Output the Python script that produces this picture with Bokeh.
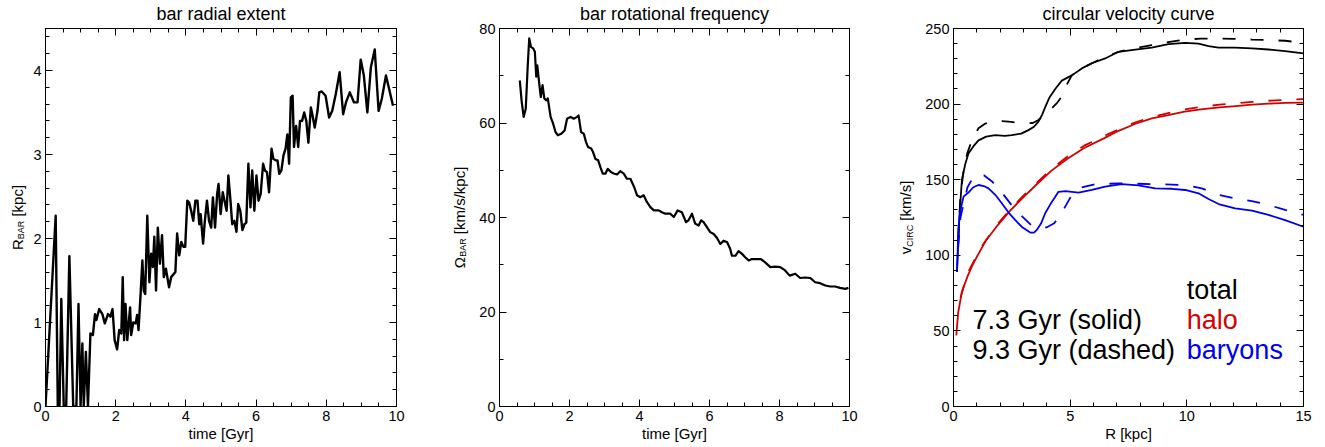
import math
from bokeh.plotting import figure
from bokeh.layouts import row
from bokeh.models import (Range1d, LinearAxis, SingleIntervalTicker, Label, Title,
                          CustomLabelingPolicy)
from bokeh.embed import file_html
from bokeh.resources import INLINE

FONT = "Liberation Sans"

# ---------------- data ----------------
# panel 1: bar radial extent
t_bar = [0.0, 0.29, 0.35, 0.40, 0.45, 0.52, 0.59, 0.68, 0.79, 0.88, 0.94, 1.0, 1.05, 1.09, 1.15, 1.21,
         1.28, 1.35, 1.41, 1.45, 1.53, 1.62, 1.69, 1.78, 1.85, 1.91, 1.97, 2.04, 2.1, 2.16, 2.2, 2.24,
         2.28, 2.33, 2.41, 2.44, 2.5, 2.57, 2.61, 2.65, 2.71, 2.76, 2.8, 2.84, 2.9, 2.96, 3.01, 3.06,
         3.1, 3.15, 3.2, 3.26, 3.32, 3.37, 3.43, 3.52, 3.58, 3.7, 3.75, 3.81, 3.87, 3.93, 3.98, 4.04,
         4.09, 4.15, 4.21, 4.27, 4.33, 4.38, 4.42, 4.49, 4.54, 4.6, 4.66, 4.72, 4.77, 4.83, 4.89, 4.93,
         4.99, 5.05, 5.1, 5.16, 5.21, 5.27, 5.32, 5.38, 5.44, 5.49, 5.55, 5.61, 5.67, 5.72, 5.78, 5.84,
         5.89, 5.95, 6.01, 6.07, 6.13, 6.2, 6.25, 6.31, 6.37, 6.44, 6.49, 6.56, 6.61, 6.66, 6.72, 6.78,
         6.84, 6.89, 6.94, 6.99, 7.04, 7.08, 7.14, 7.2, 7.25, 7.31, 7.37, 7.43, 7.49, 7.56, 7.61, 7.67,
         7.75, 7.8, 7.87, 7.98, 8.08, 8.17, 8.27, 8.38, 8.48, 8.56, 8.67, 8.79, 8.89, 8.98, 9.07, 9.17,
         9.27, 9.38, 9.49, 9.58, 9.7, 9.79, 9.9]
r_bar = [0.0, 2.27, 0.0, 0.0, 1.28, 0.0, 0.0, 1.79, 0.0, 0.0, 1.22, 0.0, 0.75, 0.0, 0.65, 0.0,
         0.87, 0.85, 1.1, 1.03, 1.16, 1.1, 0.99, 1.1, 1.07, 1.16, 0.79, 0.68, 0.91, 0.87, 1.54, 0.79,
         1.22, 0.79, 1.18, 0.85, 1.0, 0.99, 1.09, 0.91, 1.34, 1.74, 1.38, 1.34, 2.27, 1.48, 1.82, 1.66,
         2.02, 1.38, 2.13, 1.7, 2.04, 1.54, 1.64, 1.42, 1.54, 1.6, 2.06, 1.8, 1.96, 1.9, 1.9, 2.45,
         2.43, 2.33, 2.21, 2.45, 2.45, 2.17, 2.29, 1.94, 2.21, 2.45, 2.21, 2.13, 2.49, 2.13, 2.53, 2.65,
         2.29, 2.55, 2.45, 2.33, 2.75, 2.45, 2.17, 2.21, 2.08, 2.41, 2.33, 2.1, 2.17, 2.19, 2.89, 2.37,
         2.81, 2.33, 2.75, 2.45, 2.53, 2.89, 2.81, 2.79, 2.55, 3.07, 2.95, 2.93, 2.93, 2.77, 2.81, 2.99,
         3.07, 3.24, 2.89, 3.68, 3.7, 3.09, 3.34, 3.09, 3.4, 3.4, 3.5, 3.4, 3.14, 3.56, 3.46, 3.32,
         3.52, 3.74, 3.75, 3.7, 3.44, 3.52, 3.72, 3.98, 3.48, 3.62, 3.74, 3.62, 3.62, 4.13, 3.94, 3.5,
         4.04, 4.25, 3.52, 3.66, 3.94, 3.78, 3.58]

# panel 2: bar rotational frequency
t_omega = [0.58, 0.63, 0.69, 0.75, 0.81, 0.85, 0.9, 0.96, 1.01, 1.05, 1.08, 1.13, 1.18, 1.23, 1.28,
           1.34, 1.38, 1.46, 1.53, 1.6, 1.67, 1.76, 1.86, 1.93, 2.03, 2.12, 2.22, 2.26, 2.33, 2.41,
           2.47, 2.53, 2.62, 2.67, 2.74, 2.82, 2.88, 2.95, 3.03, 3.09, 3.19, 3.26, 3.36, 3.45, 3.55,
           3.64, 3.74, 3.85, 3.93, 4.02, 4.12, 4.21, 4.31, 4.41, 4.55, 4.64, 4.74, 4.88, 4.98, 5.09,
           5.21, 5.33, 5.4, 5.5, 5.59, 5.69, 5.76, 5.83, 5.93, 6.02, 6.12, 6.21, 6.31, 6.4, 6.5,
           6.59, 6.64, 6.74, 6.83, 6.93, 7.02, 7.12, 7.21, 7.35, 7.47, 7.59, 7.74, 7.88, 8.02, 8.16,
           8.29, 8.45, 8.59, 8.73, 8.88, 9.02, 9.16, 9.31, 9.45, 9.59, 9.73, 9.88, 9.97]
omega_bar = [69.0, 64.8, 61.3, 63.0, 72.6, 77.9, 76.1, 75.8, 75.1, 69.8, 72.2, 68.7, 65.5, 68.0, 65.2,
             64.8, 65.2, 61.3, 59.9, 58.1, 57.4, 57.7, 58.4, 60.9, 61.3, 60.9, 61.3, 61.6, 58.1, 57.7,
             56.0, 54.9, 54.6, 53.9, 52.4, 52.1, 50.7, 49.3, 49.3, 50.3, 49.6, 49.3, 49.1, 49.8, 49.3,
             48.2, 48.2, 46.4, 44.7, 44.3, 44.7, 43.3, 42.2, 41.5, 41.5, 41.1, 40.8, 40.8, 40.1, 41.5,
             41.1, 39.0, 39.4, 40.8, 38.7, 38.3, 39.4, 39.0, 37.9, 36.9, 36.5, 35.7, 34.4, 35.1, 34.8,
             33.4, 31.9, 31.9, 32.9, 32.3, 31.6, 30.9, 31.2, 31.2, 31.2, 30.5, 29.5, 29.6, 29.5, 28.8,
             27.7, 28.1, 27.2, 27.3, 27.2, 26.3, 26.1, 25.6, 25.4, 25.4, 25.1, 24.9, 25.1]

# panel 3: circular velocity curves
r_total_73 = [0.15, 0.25, 0.36, 0.5, 0.64, 0.85, 1.07, 1.4, 1.79, 2.2, 2.5, 2.9, 3.21, 3.45, 3.64,
              3.8, 3.93, 4.1, 4.36, 4.64, 5.07, 5.5, 5.93, 6.5, 7.07, 7.79, 8.5, 9.21, 9.93, 10.5,
              10.93, 11.36, 12.07, 12.79, 13.5, 14.21, 15.0]
v_total_73 = [89, 125, 150, 160, 167.4, 172, 176, 178.5, 179.5, 179, 179.5, 180.5, 182.8, 185, 188.4,
              193, 198, 204, 210, 215.5, 219, 223.6, 227, 230.2, 234.6, 236, 237.4, 239.6, 240.5, 240,
              238.3, 237.4, 237.4, 236.8, 236.1, 235, 233.5]
r_total_93 = [0.2, 0.3, 0.45, 0.6, 0.79, 1.07, 1.35, 1.64, 2.0, 2.36, 2.7, 3.07, 3.4, 3.64, 3.9, 4.2,
              4.45, 4.64, 4.86, 5.07, 5.4, 5.64, 6.0, 6.36, 7.07, 7.8, 8.5, 9.2, 9.93, 10.6, 11.36,
              12.0, 12.79, 13.5, 14.21, 15.0]
v_total_93 = [110, 140, 158, 168, 176, 184, 187, 188.4, 188.8, 188.4, 187.8, 187.3, 187.5, 189.5, 193,
              197, 201, 205, 213, 219, 222.5, 224.7, 227.5, 230.2, 234.6, 237, 239, 241, 242.7, 243.3,
              243.4, 243.2, 242.7, 242.3, 241.9, 240.5]
r_halo_73 = [0.12, 0.2, 0.36, 0.6, 0.8, 1.0, 1.4, 1.9, 2.4, 2.9, 3.5, 4.2, 4.9, 5.6, 6.4, 7.1, 7.8,
             8.5, 9.2, 9.9, 10.6, 11.4, 12.1, 12.8, 13.5, 14.2, 15.0]
v_halo_73 = [47, 62, 76, 86, 93, 99, 110, 120, 129, 137, 146, 156, 164, 171, 177, 182.5, 187,
             190.5, 192.7, 195, 196.5, 197.8, 198.7, 199.6, 200.3, 200.8, 201]
r_halo_93 = [0.3, 0.6, 0.9, 1.3, 1.8, 2.3, 2.9, 3.5, 4.2, 4.9, 5.6, 6.4, 7.1, 7.8, 8.5, 9.2, 9.9,
             10.6, 11.4, 12.1, 12.8, 13.5, 14.2, 15.0]
v_halo_93 = [72, 88, 97, 108, 119, 128, 138, 147, 157, 165.5, 172.5, 178.5, 183.5, 188, 191.5, 194,
             196.5, 198.2, 199.6, 200.6, 201.5, 202.2, 202.8, 203.3]
r_bary_73 = [0.15, 0.21, 0.3, 0.43, 0.64, 0.85, 1.07, 1.3, 1.5, 1.79, 2.07, 2.4, 2.64, 2.95, 3.29,
             3.45, 3.57, 3.75, 3.93, 4.2, 4.5, 4.8, 5.07, 5.36, 5.93, 6.5, 7.21, 7.93, 8.64, 9.36,
             9.93, 10.5, 10.93, 11.36, 12.07, 12.79, 13.5, 14.21, 15.0]
v_bary_73 = [89, 118, 130, 138.8, 141.5, 145, 146.5, 145.8, 144.3, 140, 134.4, 127.5, 123.4, 118.5,
             115, 115, 116.8, 121, 127.8, 135, 142, 142.5, 142, 141.4, 143.2, 145.4, 147.1, 146.3,
             144.3, 144, 143.2, 141, 137.2, 133.9, 131, 129.5, 126.7, 123.3, 118.9]
r_bary_93 = [0.2, 0.3, 0.43, 0.6, 0.86, 1.1, 1.3, 1.64, 1.95, 2.3, 2.6, 2.95, 3.36, 3.7, 4.0, 4.3,
             4.55, 4.8, 5.0, 5.2, 5.5, 6.0, 7.07, 8.5, 9.93, 10.64, 11.36, 12.07, 12.79, 13.5, 14.21,
             15.0]
v_bary_93 = [105, 125, 134, 145, 152, 153.3, 153, 149, 144, 137, 131, 125.6, 119.5, 118, 118.5, 121,
             125.6, 132.5, 138, 142, 145, 146.8, 147.6, 147.1, 146.5, 144.3, 139.9, 137.7, 135.9,
             133.3, 130, 126.7]

titles = ["bar radial extent", "bar rotational frequency", "circular velocity curve"]
xlabels = ["time [Gyr]", "time [Gyr]", "R [kpc]"]
legend_texts = ["total", "halo", "baryons", "7.3 Gyr (solid)", "9.3 Gyr (dashed)"]

BLACK = "#000000"
RED = "#d40000"
BLUE = "#0000ee"

# approximate Liberation Sans advance widths (em) for label layout
WID = {'R': 0.722, 'B': 0.667, 'A': 0.667, ' ': 0.278, '[': 0.278, ']': 0.278, 'k': 0.5,
       'p': 0.556, 'c': 0.5, 'm': 0.833, '/': 0.278, 's': 0.5, 'v': 0.5, 'C': 0.722,
       'I': 0.278, '\u03a9': 0.768}


def twidth(s, size):
    return sum(WID.get(ch, 0.55) for ch in s) * size


H = 447
TOP = 28
BOTTOM = 41
BASE_FIX = 0.37   # Bokeh draws "alphabetic" text this many ems lower than the true baseline

NO_LABELS = CustomLabelingPolicy(code="""
const n = indices.size
for (let i = 0; i < n; i++) indices.set(i, false)
return indices
""")


def style_axis(ax, show):
    ax.axis_line_color = "black"
    ax.axis_line_width = 1
    ax.major_tick_in = 7
    ax.major_tick_out = 0
    ax.minor_tick_in = 4
    ax.minor_tick_out = 0
    ax.major_tick_line_color = "black"
    ax.minor_tick_line_color = "black"
    ax.major_label_text_font = FONT
    ax.major_label_text_color = "black"
    if show:
        ax.major_label_text_font_size = "14.5px"
        ax.major_label_standoff = 4
    else:
        # mirrored tick-only axis: no labels, (almost) no reserved space
        ax.major_label_text_font_size = "1px"
        ax.major_label_standoff = 0
        ax.major_label_policy = NO_LABELS


def make_fig(width, bl, br, xr, yr, xint, xmin, yint, ymin, title, xlabel):
    p = figure(width=width, height=H, x_range=Range1d(*xr), y_range=Range1d(*yr),
               title=None, toolbar_location=None, output_backend="svg",
               x_axis_type=None, y_axis_type=None,
               min_border_left=bl, min_border_right=br, min_border_top=TOP,
               min_border_bottom=BOTTOM)
    p.outline_line_color = "black"
    p.background_fill_color = "white"
    p.border_fill_color = "white"
    p.title = Title(text=title, align="center", text_font=FONT, text_font_size="18px",
                    text_font_style="normal", text_color="black", standoff=2)
    bx = LinearAxis(ticker=SingleIntervalTicker(interval=xint, num_minor_ticks=xmin))
    style_axis(bx, True)
    bx.axis_label = xlabel
    bx.axis_label_text_font = FONT
    bx.axis_label_text_font_size = "15px"
    bx.axis_label_text_font_style = "normal"
    bx.axis_label_text_color = "black"
    bx.axis_label_standoff = 1
    p.add_layout(bx, "below")
    ax = LinearAxis(ticker=SingleIntervalTicker(interval=xint, num_minor_ticks=xmin))
    style_axis(ax, False)
    p.add_layout(ax, "above")
    ly = LinearAxis(ticker=SingleIntervalTicker(interval=yint, num_minor_ticks=ymin))
    style_axis(ly, True)
    p.add_layout(ly, "left")
    ry = LinearAxis(ticker=SingleIntervalTicker(interval=yint, num_minor_ticks=ymin))
    style_axis(ry, False)
    p.add_layout(ry, "right")
    return p


def ylabel_fig(width, baseline_x, pieces):
    """Narrow text-only figure carrying a rotated y-axis title with a subscript.
    pieces: (text, font size, extra baseline shift to the right, gap before)"""
    q = figure(width=width, height=H, x_range=Range1d(0, 1), y_range=Range1d(0, 1),
               title=None, toolbar_location=None, output_backend="svg",
               x_axis_type=None, y_axis_type=None,
               min_border_left=0, min_border_right=0, min_border_top=TOP,
               min_border_bottom=BOTTOM)
    q.outline_line_color = None
    q.background_fill_color = "white"
    q.border_fill_color = "white"
    total = sum(twidth(t, s) + g for t, s, _, g in pieces)
    pos = -total / 2
    for t, s, shift, gap in pieces:
        pos += gap
        q.add_layout(Label(x=0, y=0.5, x_offset=baseline_x + shift - BASE_FIX * s, y_offset=pos,
                           text=t, text_font=FONT, text_font_size=f"{s}px", text_color="black",
                           angle=math.pi / 2, text_align="left", text_baseline="alphabetic"))
        pos += twidth(t, s)
    return q


# ---------------- panel 1 ----------------
y1 = ylabel_fig(30, 22.5, [("R", 15, 0, 0), ("BAR", 9, 1, 0), ("[kpc]", 15, 0, 4.2)])
p1 = make_fig(410, 15, 44, (0, 10), (0, 4.5), 2, 4, 1, 5, titles[0], xlabels[0])
p1.line(t_bar, r_bar, line_color=BLACK, line_width=2.4, line_join="round")

# ---------------- panel 2 ----------------
y2 = ylabel_fig(35, 25, [("\u03a9", 15, 0, 0), ("BAR", 9, 1, 0), ("[km/s/kpc]", 15, 0, 4.2)])
p2 = make_fig(410, 24, 36, (0, 10), (0, 80), 2, 4, 20, 2, titles[1], xlabels[1])
p2.line(t_omega, omega_bar, line_color=BLACK, line_width=2.2, line_join="round")

# ---------------- panel 3 ----------------
y3 = ylabel_fig(33, 26, [("v", 15, 0, 0), ("CIRC", 9, 2, 0), ("[km/s]", 15, 0, 4.2)])
p3 = make_fig(407, 35, 22, (0, 15), (0, 250), 5, 5, 50, 5, titles[2], xlabels[2])
DASH = "13 15"
p3.line(r_total_93, v_total_93, line_color=BLACK, line_width=1.8, line_dash=DASH)
p3.line(r_total_73, v_total_73, line_color=BLACK, line_width=1.8)
p3.line(r_halo_93, v_halo_93, line_color=RED, line_width=1.8, line_dash=DASH)
p3.line(r_halo_73, v_halo_73, line_color=RED, line_width=1.8)
p3.line(r_bary_93, v_bary_93, line_color=BLUE, line_width=1.8, line_dash=DASH)
p3.line(r_bary_73, v_bary_73, line_color=BLUE, line_width=1.8)

legend_colors = [BLACK, RED, BLUE, BLACK, BLACK]
legend_x = [10.0, 10.0, 10.0, 0.81, 0.81]
legend_y = [70.5, 50.5, 30.9, 50.5, 30.9]
for t, c, lx, ly in zip(legend_texts, legend_colors, legend_x, legend_y):
    p3.add_layout(Label(x=lx, y=ly, y_offset=BASE_FIX * 27, text=t, text_font=FONT,
                        text_font_size="27px", text_color=c, text_baseline="alphabetic",
                        text_align="left"))

layout = row(y1, p1, y2, p2, y3, p3)
open("out.html", "w").write(file_html(layout, INLINE))
